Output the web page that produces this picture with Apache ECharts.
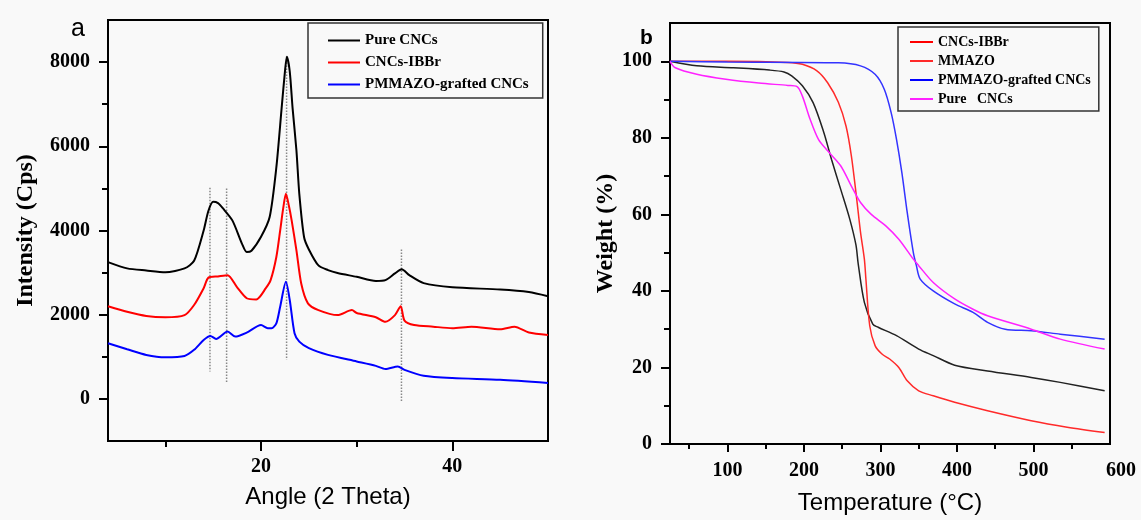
<!DOCTYPE html>
<html>
<head>
<meta charset="utf-8">
<script src="https://cdn.jsdelivr.net/npm/echarts@6/dist/echarts.min.js"></script>
<style>html,body{margin:0;padding:0;background:#f9f9f9;}#c{width:1141px;height:520px;}</style>
</head>
<body>
<div id="c"></div>
<script>
// ---------- Panel a: XRD ----------
const xrdNames = ['Pure CNCs', 'CNCs-IBBr', 'PMMAZO-grafted CNCs'];
const xrdPure = [[4,3250],[6,3100],[8,3050],[10,3010],[12,3100],[13,3280],[14,4000],[14.5,4470],[15,4680],[15.5,4650],[16,4530],[17,4240],[18,3690],[18.5,3490],[19,3520],[20,3850],[20.9,4320],[21.6,5500],[22.15,6900],[22.5,7780],[22.7,8130],[23,7780],[23.3,6900],[23.7,5900],[24,4870],[24.5,3840],[25,3550],[26,3170],[27,3060],[28,2990],[30,2900],[32,2800],[33,2820],[34,2980],[34.7,3080],[35.5,2940],[37,2750],[40,2650],[45,2600],[48,2540],[50,2440]];
const xrdIBBr = [[4,2200],[6,2070],[8,1970],[10,1940],[12,1990],[13,2230],[14,2630],[14.5,2880],[15.5,2910],[16.5,2940],[17.5,2650],[18.5,2390],[19.5,2360],[20.5,2630],[21,2820],[21.6,3370],[22,4000],[22.3,4500],[22.6,4870],[22.9,4600],[23.2,4240],[23.7,3530],[24.2,2740],[24.9,2270],[26,2110],[28,1990],[29.5,2110],[30,2040],[32,1940],[33,1830],[34,1990],[34.6,2200],[35,1860],[36,1755],[38,1715],[40,1680],[42,1715],[45,1655],[46.5,1715],[48,1575],[50,1520]];
const xrdGrafted = [[4,1320],[6,1180],[8,1045],[10,990],[12,1020],[13,1165],[14,1400],[14.7,1495],[15.3,1425],[16.5,1600],[17.3,1480],[18.5,1575],[20,1755],[20.7,1680],[21.1,1680],[21.6,1795],[22,2190],[22.6,2780],[23,2350],[23.5,1560],[24,1360],[25,1205],[27,1045],[30,890],[32,785],[33,710],[34.3,770],[35,690],[37,550],[40,495],[45,455],[50,380]];
// guide lines: [angle, top intensity, bottom intensity]
const xrdGuides = [[14.66,5016,652],[16.4,5000,392],[22.67,8135,929],[34.68,3551,-57]];
const xrdMajorX = [20,40];
const xrdMinorX = [10,30];
const xrdMajorY = [0,2000,4000,6000,8000];
const xrdMinorY = [1000,3000,5000,7000];

// ---------- Panel b: TGA ----------
const tgaNames = ['CNCs-IBBr', 'MMAZO', 'PMMAZO-grafted CNCs', 'Pure   CNCs'];
const tgaIBBr = [[25,100],[60,98.8],[108,98.3],[155,97.7],[174,97.2],[184,96.2],[198,93.6],[212,89.2],[226,81.4],[236,74.4],[248,66.6],[260,58.7],[268,52],[271,47],[279,37],[290,31.3],[297,30.5],[321,28.3],[350,24.8],[369,23.1],[397,20.6],[440,19.1],[497,17.4],[535,16.1],[593,13.9]];
const tgaMMAZO = [[25,100],[100,100],[179,99.7],[198,99.2],[217,97.5],[231,94.4],[245,89.3],[255,83.1],[262,75.3],[269,64],[274,55.3],[279,48.3],[281,43.1],[286,30.9],[293,25.7],[302,23.5],[312,22.2],[324,20],[335,16.5],[350,13.9],[369,12.6],[397,10.9],[440,8.7],[497,6.1],[544,4.4],[593,3.0]];
const tgaGrafted = [[25,100],[100,99.8],[245,99.6],[274,98.8],[293,96.6],[305,92.7],[314,86.6],[321,79.6],[328,70.9],[335,60.5],[343,50],[347,46.6],[352,43.1],[369,40],[397,36.6],[421,34.4],[440,31.8],[463,30],[497,29.6],[535,28.7],[593,27.4]];
const tgaPure = [[25,100],[32,98.3],[60,96.6],[98,95.3],[141,94.3],[179,93.7],[191,93.4],[198,90.9],[208,84.9],[219,79.6],[231,76.6],[248,72.7],[262,67.4],[274,63.1],[288,60],[307,57],[324,53.5],[343,48.3],[350,46.6],[369,42.2],[397,37.9],[421,35.2],[440,33.5],[497,30],[535,27.4],[593,24.8]];
const tgaMajorX = [100,200,300,400,500];
const tgaLabelX = [100,200,300,400,500,600];
const tgaMinorX = [50,150,250,350,450,550];
const tgaMajorY = [0,20,40,60,80,100];
const tgaMinorY = [10,30,50,70,90];

const SERIF = '"Liberation Serif", "Times New Roman", serif';
const SANS = '"Liberation Sans", Arial, sans-serif';
const tickLabel = {fontFamily: SERIF, fontWeight: 'bold', fontSize: 20, color: '#000'};

function mainAxis(grid, pos, min, max, ticks, labels, len, margin, extra) {
  return Object.assign({
    type: 'value', gridIndex: grid, position: pos, min: min, max: max,
    axisLine: {show: true, onZero: false, lineStyle: {color: '#000', width: 2}},
    axisTick: {show: true, customValues: ticks, length: len, lineStyle: {color: '#000', width: 2}},
    axisLabel: Object.assign({show: true, customValues: labels, margin: margin,
      formatter: function (v) { return String(v); }}, tickLabel),
    splitLine: {show: false}
  }, extra || {});
}
function minorAxis(grid, pos, min, max, ticks, len) {
  return {
    type: 'value', gridIndex: grid, position: pos, offset: 0, min: min, max: max,
    axisLine: {show: false, onZero: false},
    axisTick: {show: true, customValues: ticks, length: len, lineStyle: {color: '#000', width: 2}},
    axisLabel: {show: false},
    splitLine: {show: false}
  };
}

const option = {
  backgroundColor: '#f9f9f9',
  animation: false,
  title: [
    {text: 'a', left: 66, top: 12, textStyle: {fontFamily: SANS, fontWeight: 'normal', fontSize: 25, color: '#000'}},
    {text: 'b', left: 635, top: 23, textStyle: {fontFamily: SANS, fontWeight: 'bold', fontSize: 21, color: '#000'}}
  ],
  grid: [
    {left: 108, right: 593, top: 20, bottom: 79, show: true, borderColor: '#000', borderWidth: 2, backgroundColor: 'transparent'},
    {left: 670, right: 31, top: 23, bottom: 75, show: true, borderColor: '#000', borderWidth: 2, backgroundColor: 'transparent'}
  ],
  legend: [
    {
      data: xrdNames, orient: 'vertical', left: 308, top: 23, icon: 'rect',
      padding: [10, 14, 6, 20], itemGap: 7, itemWidth: 32, itemHeight: 2,
      borderColor: '#333', borderWidth: 1.5,
      textStyle: {fontFamily: SERIF, fontWeight: 'bold', fontSize: 15, color: '#000', lineHeight: 15}
    },
    {
      data: tgaNames, orient: 'vertical', left: 898, top: 27, icon: 'rect',
      padding: [8, 8, 5, 12], itemGap: 5, itemWidth: 23, itemHeight: 2,
      borderColor: '#333', borderWidth: 1.5,
      textStyle: {fontFamily: SERIF, fontWeight: 'bold', fontSize: 14, color: '#000', lineHeight: 14}
    }
  ],
  xAxis: [
    mainAxis(0, 'bottom', 4, 50, xrdMajorX, xrdMajorX, 10, 16, {
      name: 'Angle (2 Theta)', nameLocation: 'middle', nameGap: 44,
      nameTextStyle: {fontFamily: SANS, fontSize: 24, color: '#000'}
    }),
    minorAxis(0, 'bottom', 4, 50, xrdMinorX, 6),
    mainAxis(1, 'bottom', 25, 600, tgaMajorX, tgaLabelX, 8, 17, {
      name: 'Temperature (°C)', nameLocation: 'middle', nameGap: 47,
      nameTextStyle: {fontFamily: SANS, fontSize: 24, color: '#000'}
    }),
    minorAxis(1, 'bottom', 25, 600, tgaMinorX, 5)
  ],
  yAxis: [
    mainAxis(0, 'left', -1000, 9000, xrdMajorY, xrdMajorY, 9, 18, {
      name: 'Intensity (Cps)', nameLocation: 'middle', nameGap: 70,
      nameTextStyle: {fontFamily: SERIF, fontWeight: 'bold', fontSize: 24, color: '#000'}
    }),
    minorAxis(0, 'left', -1000, 9000, xrdMinorY, 6),
    mainAxis(1, 'left', 0, 110, tgaMajorY, tgaMajorY, 9, 18, {
      name: 'Weight (%)', nameLocation: 'middle', nameGap: 46,
      nameTextStyle: {fontFamily: SERIF, fontWeight: 'bold', fontSize: 24, color: '#000'}
    }),
    minorAxis(1, 'left', 0, 110, tgaMinorY, 6)
  ],
  series: []
};

// 600 label shifted like the reference
option.xAxis[2].axisLabel.formatter = function (v) { return v === 600 ? '{s|600}' : String(v); };
option.xAxis[2].axisLabel.rich = {s: Object.assign({padding: [0, 0, 0, 22]}, tickLabel)};

const xrdSets = [xrdPure, xrdIBBr, xrdGrafted];
const xrdColors = ['#000000', '#ff0000', '#0000ff'];
xrdSets.forEach((d, i) => {
  option.series.push({
    type: 'line', name: xrdNames[i], xAxisIndex: 0, yAxisIndex: 0, data: d,
    symbol: 'none', smooth: 0.25, z: 3 + (2 - i),
    lineStyle: {color: xrdColors[i], width: 2}, itemStyle: {color: xrdColors[i]}
  });
});
xrdGuides.forEach(g => {
  option.series.push({
    type: 'line', xAxisIndex: 0, yAxisIndex: 0, data: [[g[0], g[1]], [g[0], g[2]]],
    symbol: 'none', silent: true, z: 2,
    lineStyle: {color: '#888', width: 1.5, type: 'dotted'}
  });
});

const tgaSets = [tgaIBBr, tgaMMAZO, tgaGrafted, tgaPure];
const tgaColors = ['#222222', '#ff2a2a', '#3333ff', '#ff22ff'];
tgaSets.forEach((d, i) => {
  option.series.push({
    type: 'line', name: tgaNames[i], xAxisIndex: 2, yAxisIndex: 2, data: d,
    symbol: 'none', smooth: 0.3,
    lineStyle: {color: tgaColors[i], width: 1.5}, itemStyle: {color: tgaColors[i]}
  });
});

const chart = echarts.init(document.getElementById('c'), null, {renderer: 'canvas'});
chart.setOption(option);
</script>
</body>
</html>
